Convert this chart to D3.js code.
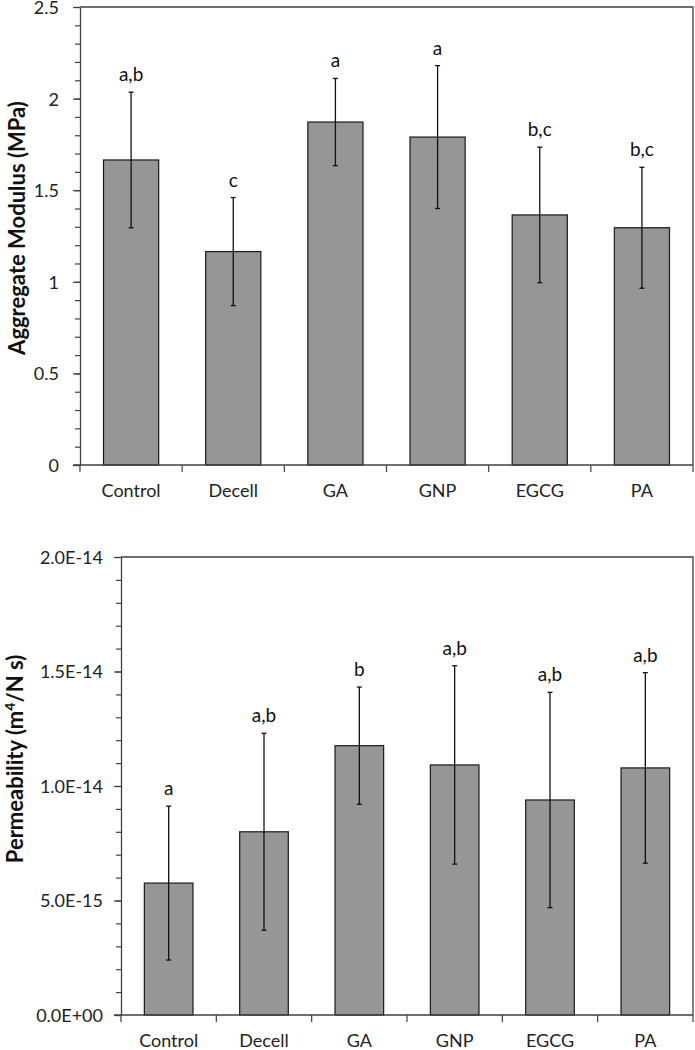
<!DOCTYPE html>
<html>
<head>
<meta charset="utf-8">
<script src="https://cdn.jsdelivr.net/npm/d3@7"></script>
<style>
body { margin: 0; background: #fff; }
svg { display: block; font-family: Lato, "Open Sans", sans-serif; }
</style>
</head>
<body>
<div id="chart"></div>
<script>
// data
var categories = ["Control", "Decell", "GA", "GNP", "EGCG", "PA"];

var modulusMean = [1.665, 1.165, 1.872, 1.79, 1.365, 1.295];
var modulusErr = [0.37, 0.295, 0.238, 0.39, 0.37, 0.33];
var modulusLetters = ["a,b", "c", "a", "a", "b,c", "b,c"];
var modulusTicks = [0, 0.5, 1, 1.5, 2, 2.5];
var modulusTickLabels = ["0", "0.5", "1", "1.5", "2", "2.5"];

var permMean = [5.76e-15, 8.0e-15, 11.76e-15, 10.92e-15, 9.39e-15, 10.79e-15];
var permErr = [3.36e-15, 4.3e-15, 2.56e-15, 4.33e-15, 4.7e-15, 4.16e-15];
var permLetters = ["a", "a,b", "b", "a,b", "a,b", "a,b"];
var permTicks = [0, 5e-15, 1e-14, 1.5e-14, 2e-14];
var permTickLabels = ["0.0E+00", "5.0E-15", "1.0E-14", "1.5E-14", "2.0E-14"];

var svg = d3.select("#chart").append("svg")
	.attr("width", 695)
	.attr("height", 1050);

var axisColor = "#404040";

function drawPanel(opt) {
	var x = d3.scaleBand()
		.domain(categories)
		.range([opt.left, opt.right])
		.paddingInner(opt.pad)
		.paddingOuter(opt.pad / 2);

	var y = d3.scaleLinear()
		.domain([0, opt.max])
		.range([opt.bottom, opt.top]);

	var g = svg.append("g");

	// plot frame (top + right)
	g.append("path")
		.attr("d", "M" + opt.left + "," + opt.top + "H" + opt.right + "V" + opt.bottom)
		.attr("fill", "none")
		.attr("stroke", axisColor)
		.attr("stroke-width", 1.3);

	// bars
	g.selectAll("rect.bar")
		.data(opt.mean)
		.enter()
		.append("rect")
		.attr("class", "bar")
		.attr("x", function(d, i) { return x(categories[i]); })
		.attr("width", x.bandwidth())
		.attr("y", function(d) { return y(d); })
		.attr("height", function(d) { return opt.bottom - y(d); })
		.attr("fill", "#969696")
		.attr("stroke", "#1a1a1a")
		.attr("stroke-width", 1.2);

	// error bars
	var eb = g.selectAll("g.err")
		.data(opt.mean)
		.enter()
		.append("g")
		.attr("class", "err")
		.attr("stroke", "#111")
		.attr("stroke-width", 1.3);

	eb.append("line")
		.attr("x1", function(d, i) { return x(categories[i]) + x.bandwidth() / 2; })
		.attr("x2", function(d, i) { return x(categories[i]) + x.bandwidth() / 2; })
		.attr("y1", function(d, i) { return y(d + opt.err[i]); })
		.attr("y2", function(d, i) { return y(d - opt.err[i]); });

	[1, -1].forEach(function(s) {
		eb.append("line")
			.attr("x1", function(d, i) { return x(categories[i]) + x.bandwidth() / 2 - 2.5; })
			.attr("x2", function(d, i) { return x(categories[i]) + x.bandwidth() / 2 + 2.5; })
			.attr("y1", function(d, i) { return y(d + s * opt.err[i]); })
			.attr("y2", function(d, i) { return y(d + s * opt.err[i]); });
	});

	// significance letters
	g.selectAll("text.letter")
		.data(opt.letters)
		.enter()
		.append("text")
		.attr("class", "letter")
		.attr("x", function(d, i) { return x(categories[i]) + x.bandwidth() / 2; })
		.attr("y", function(d, i) { return y(opt.mean[i] + opt.err[i]) - 11; })
		.attr("text-anchor", "middle")
		.attr("font-size", 19)
		.attr("fill", "#111")
		.text(function(d) { return d; });

	// y axis with minor ticks
	var minor = d3.range(0, opt.max + opt.minorStep / 2, opt.minorStep);
	var yMinor = g.append("g")
		.attr("transform", "translate(" + opt.left + ",0)")
		.call(d3.axisLeft(y).tickValues(minor).tickSize(5).tickFormat(""));
	yMinor.select(".domain").remove();
	yMinor.selectAll("line").attr("stroke", axisColor).attr("stroke-width", 1.2);

	var yAxis = g.append("g")
		.attr("transform", "translate(" + opt.left + ",0)")
		.call(d3.axisLeft(y).tickValues(opt.ticks).tickSize(7).tickSizeOuter(0)
			.tickFormat(function(d, i) { return opt.tickLabels[i]; }));
	yAxis.select(".domain").attr("stroke", axisColor).attr("stroke-width", 1.3);
	yAxis.selectAll("line").attr("stroke", axisColor).attr("stroke-width", 1.2);
	yAxis.selectAll("text")
		.attr("x", -opt.labelGap)
		.attr("dy", "0.36em")
		.attr("font-size", 18)
		.attr("font-family", "Lato, 'Open Sans', sans-serif")
		.attr("fill", "#222");

	// x axis: ticks at category boundaries
	var bounds = d3.range(categories.length + 1).map(function(i) {
		return opt.left + i * x.step();
	});
	g.append("line")
		.attr("x1", opt.left - 7)
		.attr("x2", opt.right)
		.attr("y1", opt.bottom)
		.attr("y2", opt.bottom)
		.attr("stroke", axisColor)
		.attr("stroke-width", 1.3);
	g.selectAll("line.xtick")
		.data(bounds)
		.enter()
		.append("line")
		.attr("class", "xtick")
		.attr("x1", function(d) { return d; })
		.attr("x2", function(d) { return d; })
		.attr("y1", opt.bottom)
		.attr("y2", opt.bottom + 7)
		.attr("stroke", axisColor)
		.attr("stroke-width", 1.2);

	g.selectAll("text.cat")
		.data(categories)
		.enter()
		.append("text")
		.attr("class", "cat")
		.attr("x", function(d) { return x(d) + x.bandwidth() / 2; })
		.attr("y", opt.bottom + 32)
		.attr("text-anchor", "middle")
		.attr("font-size", 18)
		.attr("fill", "#222")
		.text(function(d) { return d; });

	// axis title
	var title = g.append("text")
		.attr("transform", "translate(" + opt.titleX + "," + opt.titleY + ") rotate(-90)")
		.attr("text-anchor", "middle")
		.attr("font-size", 22)
		.attr("font-weight", "bold")
		.attr("fill", "#111");
	opt.title(title);
}

drawPanel({
	left: 80, right: 693, top: 7, bottom: 465,
	max: 2.5, minorStep: 0.1, pad: 0.46,
	mean: modulusMean, err: modulusErr, letters: modulusLetters,
	ticks: modulusTicks, tickLabels: modulusTickLabels, labelGap: 21,
	titleX: 25, titleY: 228,
	title: function(t) { t.text("Aggregate Modulus (MPa)"); }
});

drawPanel({
	left: 121, right: 693, top: 557, bottom: 1015,
	max: 2e-14, minorStep: 1e-15, pad: 0.49,
	mean: permMean, err: permErr, letters: permLetters,
	ticks: permTicks, tickLabels: permTickLabels, labelGap: 18,
	titleX: 23, titleY: 759,
	title: function(t) {
		t.append("tspan").text("Permeability (m");
		t.append("tspan").attr("font-size", 14).attr("dy", -8).text("4");
		t.append("tspan").attr("dy", 8).text("/N s)");
	}
});
</script>
</body>
</html>
